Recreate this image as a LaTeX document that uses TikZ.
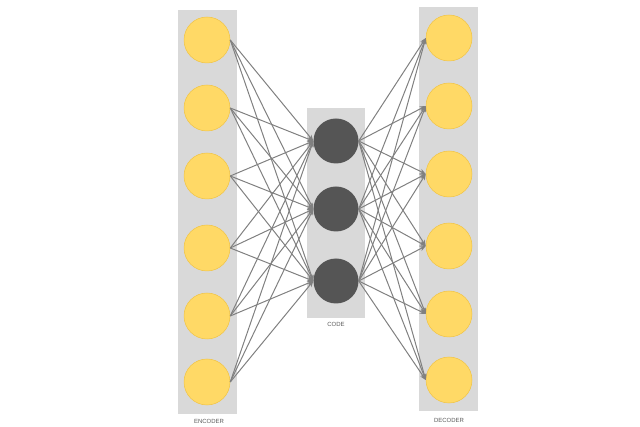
\documentclass[tikz,border=0pt]{standalone}
\usepackage{fontspec}
\setmainfont{Liberation Sans}
\usetikzlibrary{arrows.meta}
\begin{document}
\begin{tikzpicture}[x=1pt,y=-1pt,
  panel/.style={fill=black!15,draw=none},
  yel/.style={circle,fill={rgb,255:red,255;green,217;blue,102},draw={rgb,255:red,242;green,196;blue,68},line width=0.5pt,minimum size=46pt,inner sep=0},
  dk/.style={circle,fill={rgb,255:red,85;green,85;blue,85},draw=none,minimum size=45pt,inner sep=0},
  conn/.style={draw={rgb,255:red,128;green,128;blue,128},line width=1pt,-{Stealth[length=6pt,width=5pt]}},
  lbl/.style={font=\fontsize{6}{7}\selectfont,text={rgb,255:red,90;green,90;blue,90}}]
\useasboundingbox (0,0) rectangle (640,427);
\fill[panel] (178,10) rectangle (237,414);
\fill[panel] (307,108) rectangle (365,318);
\fill[panel] (419,7) rectangle (478,411);
\foreach \i/\y in {1/40,2/108,3/176,4/248,5/316,6/382}{
  \node[yel] (e\i) at (207,\y) {};
  \node[yel] (d\i) at (449,\y-2) {};
}
\foreach \i/\y in {1/141,2/209,3/281}{ \node[dk] (c\i) at (336,\y) {}; }
\foreach \i in {1,...,6}{\foreach \j in {1,2,3}{
  \draw[conn] (e\i.east) -- (c\j.west);
  \draw[conn] (c\j.east) -- (d\i.west);
}}
\node[lbl] (le) at (209,421) {ENCODER};
\node[lbl] (lc) at (336,324) {CODE};
\node[lbl] (ld) at (449,420) {DECODER};
\end{tikzpicture}
\end{document}
